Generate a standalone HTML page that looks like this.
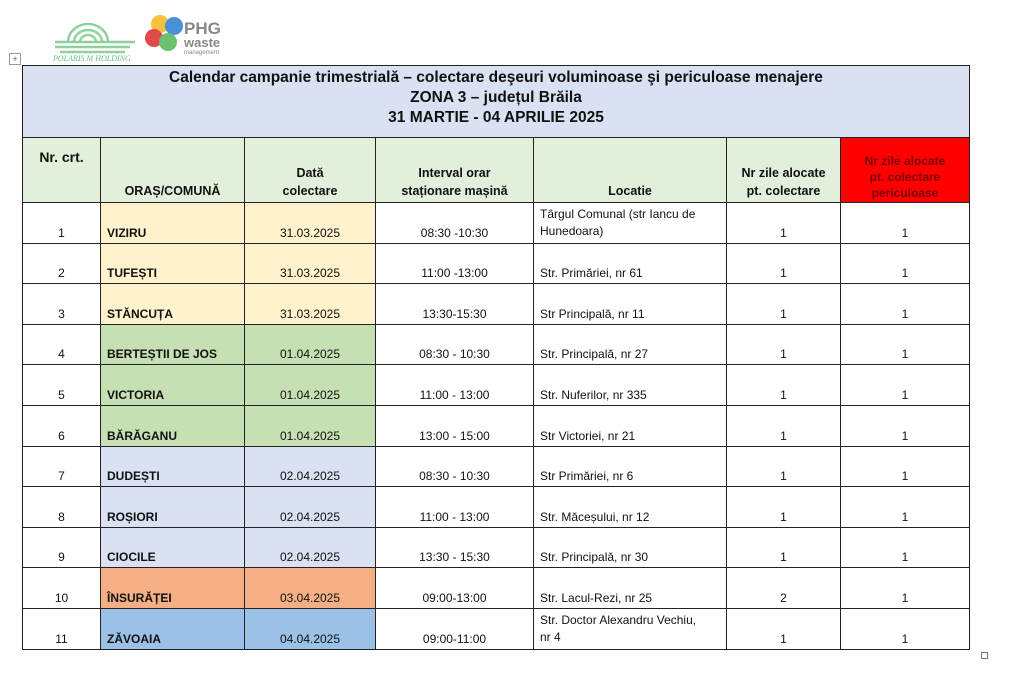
<!DOCTYPE html>
<html><head><meta charset="utf-8"><style>
body{margin:0;width:1018px;height:683px;background:#fff;position:relative;font-family:"Liberation Sans",sans-serif;overflow:hidden}
table{position:absolute;left:22px;top:65px;border-collapse:collapse;table-layout:fixed}
td{border:1px solid #222;padding:0 6px 3px;font-size:12px;color:#111;vertical-align:bottom;overflow:hidden}
.t{background:#d9e1f2;text-align:center;vertical-align:top;font-weight:bold;font-size:15.5px;line-height:20px;padding:2px 0 0;height:69px}
.h td{background:#e2efda;font-weight:bold;font-size:12.5px;text-align:center;height:62px;line-height:18px;padding:0 2px 2px}
.h td.r{background:#f00;color:#7a0000;font-size:12px;line-height:16px;padding-bottom:1px;height:63px}
.h td.n{vertical-align:top;padding:10px 0 0;height:54px;font-size:14px}
.c{text-align:center}
.b{font-weight:bold}
tr.d td{height:36.6px}
.y{background:#fff2cc}.g{background:#c6e0b4}.bl{background:#d9e1f2}.o{background:#f4b084}.s{background:#9bc2e6}
</style></head><body>
<svg style="position:absolute;left:50px;top:12px" width="90" height="50">
<g fill="none" stroke="#8fd19e" stroke-width="2.5">
<path d="M18 30 A20 18 0 0 1 58 30"/><path d="M24 30 A14 12 0 0 1 52 30"/><path d="M30 30 A8 7 0 0 1 46 30"/>
<line x1="5" y1="30" x2="85" y2="30"/><line x1="5" y1="35" x2="80" y2="35"/><line x1="10" y1="40" x2="75" y2="40"/></g>
<text x="3" y="49" font-size="8" font-style="italic" fill="#6cbf7d" font-family="Liberation Serif">POLARIS M HOLDING</text></svg>
<svg style="position:absolute;left:138px;top:10px" width="100" height="50">
<circle cx="22" cy="14" r="9" fill="#f5c13f"/><circle cx="36" cy="16" r="9" fill="#4a90d9"/><circle cx="16" cy="28" r="9" fill="#e24a4a"/><circle cx="30" cy="32" r="9" fill="#6cc070"/>
<text x="46" y="24" font-size="17" font-weight="bold" fill="#888">PHG</text><text x="46" y="37" font-size="13" font-weight="bold" fill="#888">waste</text><text x="46" y="44" font-size="6" fill="#888">management</text></svg>
<div style="position:absolute;left:9px;top:53px;width:10px;height:10px;border:1px solid #99a;font-size:9px;line-height:10px;text-align:center;color:#557">+</div>
<table>
<colgroup><col style="width:78px"><col style="width:144px"><col style="width:131px"><col style="width:158px"><col style="width:193px"><col style="width:114px"><col style="width:129px"></colgroup>
<tr><td colspan="7" class="t">Calendar campanie trimestrială – colectare deşeuri voluminoase şi periculoase menajere<br>ZONA 3 – județul Brăila<br>31 MARTIE - 04 APRILIE 2025</td></tr>
<tr class="h"><td class="n">Nr. crt.</td><td>ORAȘ/COMUNĂ</td><td>Dată<br>colectare</td><td>Interval orar<br>staționare mașină</td><td>Locatie</td><td>Nr zile alocate<br>pt. colectare</td><td class="r">Nr zile alocate<br>pt. colectare<br>periculoase</td></tr>
<tr class="d"><td class="c">1</td><td class="b y">VIZIRU</td><td class="c y">31.03.2025</td><td class="c">08:30 -10:30</td><td style="line-height:17px">Târgul Comunal (str Iancu de Hunedoara)</td><td class="c">1</td><td class="c">1</td></tr>
<tr class="d"><td class="c">2</td><td class="b y">TUFEȘTI</td><td class="c y">31.03.2025</td><td class="c">11:00 -13:00</td><td>Str. Primăriei, nr 61</td><td class="c">1</td><td class="c">1</td></tr>
<tr class="d"><td class="c">3</td><td class="b y">STĂNCUȚA</td><td class="c y">31.03.2025</td><td class="c">13:30-15:30</td><td>Str Principală, nr 11</td><td class="c">1</td><td class="c">1</td></tr>
<tr class="d"><td class="c">4</td><td class="b g">BERTEȘTII DE JOS</td><td class="c g">01.04.2025</td><td class="c">08:30 - 10:30</td><td>Str. Principală, nr 27</td><td class="c">1</td><td class="c">1</td></tr>
<tr class="d"><td class="c">5</td><td class="b g">VICTORIA</td><td class="c g">01.04.2025</td><td class="c">11:00 - 13:00</td><td>Str. Nuferilor, nr 335</td><td class="c">1</td><td class="c">1</td></tr>
<tr class="d"><td class="c">6</td><td class="b g">BĂRĂGANU</td><td class="c g">01.04.2025</td><td class="c">13:00 - 15:00</td><td>Str Victoriei, nr 21</td><td class="c">1</td><td class="c">1</td></tr>
<tr class="d"><td class="c">7</td><td class="b bl">DUDEȘTI</td><td class="c bl">02.04.2025</td><td class="c">08:30 - 10:30</td><td>Str Primăriei, nr 6</td><td class="c">1</td><td class="c">1</td></tr>
<tr class="d"><td class="c">8</td><td class="b bl">ROȘIORI</td><td class="c bl">02.04.2025</td><td class="c">11:00 - 13:00</td><td>Str. Măceșului, nr 12</td><td class="c">1</td><td class="c">1</td></tr>
<tr class="d"><td class="c">9</td><td class="b bl">CIOCILE</td><td class="c bl">02.04.2025</td><td class="c">13:30 - 15:30</td><td>Str. Principală, nr 30</td><td class="c">1</td><td class="c">1</td></tr>
<tr class="d"><td class="c">10</td><td class="b o">ÎNSURĂȚEI</td><td class="c o">03.04.2025</td><td class="c">09:00-13:00</td><td>Str. Lacul-Rezi, nr 25</td><td class="c">2</td><td class="c">1</td></tr>
<tr class="d"><td class="c">11</td><td class="b s">ZĂVOAIA</td><td class="c s">04.04.2025</td><td class="c">09:00-11:00</td><td style="line-height:17px">Str. Doctor Alexandru Vechiu,<br>nr 4</td><td class="c">1</td><td class="c">1</td></tr>
</table>
<div style="position:absolute;left:981px;top:652px;width:5px;height:5px;border:1px solid #777"></div>
</body></html>
